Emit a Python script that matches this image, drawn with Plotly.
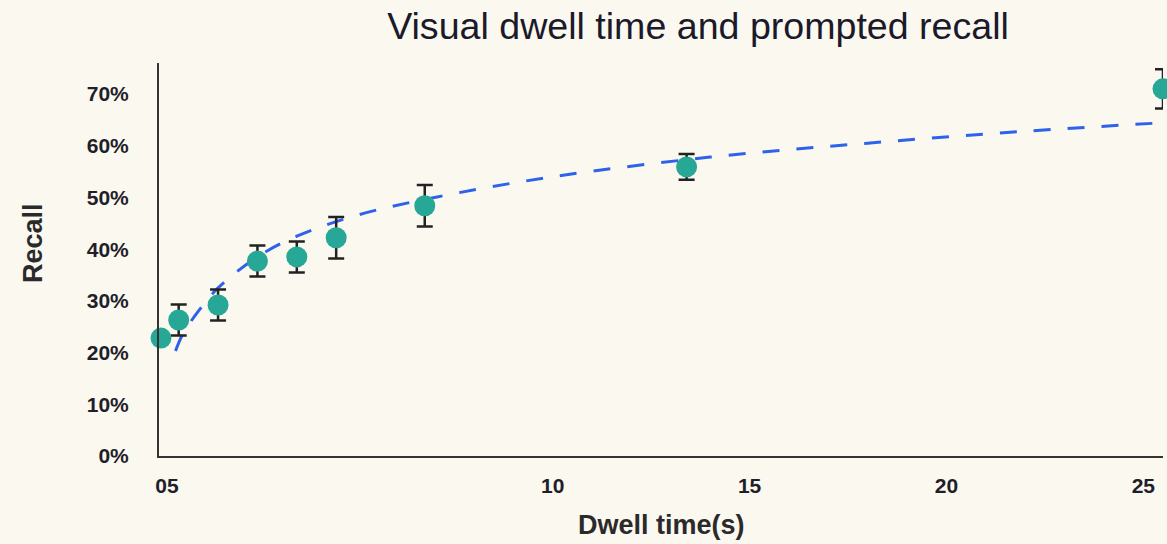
import plotly.graph_objects as go

# Observed data
dwell_time = [0.05, 0.5, 1.5, 2.5, 3.5, 4.5, 6.75, 13.4, 25.5]
recall = [22.8, 26.3, 29.2, 37.7, 38.5, 42.2, 48.4, 55.9, 71.0]
recall_err = [0, 3.0, 3.0, 3.0, 3.0, 4.0, 4.0, 2.5, 3.8]

# Fitted trend
fit_x = [0.42, 0.6, 1.0, 1.5, 2.5, 3.5, 5, 7, 10, 14, 18, 22, 25.4]
fit_y = [20.3, 23.5, 28.0, 32.5, 38.5, 42.5, 46.5, 50.0, 54.0, 57.8, 60.5, 62.8, 64.4]

x_tickvals = [0.2, 10, 15, 20, 25]
x_ticktext = ["05", "10", "15", "20", "25"]
y_tickvals = [0, 10, 20, 30, 40, 50, 60, 70]
y_ticktext = ["0%", "10%", "20%", "30%", "40%", "50%", "60%", "70%"]

BG = "#FBF8F0"
INK = "#1F1F2A"
FONT = "Liberation Sans, Arial, sans-serif"

fig = go.Figure()
fig.add_trace(go.Scatter(
    x=fit_x, y=fit_y, mode="lines", line_shape="spline",
    line=dict(color="#2F62EA", width=3, dash="17px,17px"),
    hoverinfo="skip", showlegend=False,
))
fig.add_trace(go.Scatter(
    x=dwell_time, y=recall, mode="markers",
    marker=dict(color="#27A795", size=21),
    error_y=dict(type="data", array=recall_err, visible=True,
                 color="#222222", thickness=2.5, width=8),
    showlegend=False, cliponaxis=False,
))

fig.update_layout(
    width=1396, height=544,
    margin=dict(l=159, r=233, t=63, b=88, autoexpand=False),
    paper_bgcolor=BG, plot_bgcolor=BG,
    title=dict(text="Visual dwell time and prompted recall",
               x=0.5, xref="container", xanchor="center", y=0.953, yanchor="middle",
               font=dict(family=FONT, size=37.6, color="#1A1A2A")),
    xaxis=dict(range=[0, 25.5], tickvals=x_tickvals, ticktext=x_ticktext,
               showgrid=False, zeroline=False, showline=True, linecolor="#333333", linewidth=2,
               ticks="", ticklabelstandoff=10, automargin=False,
               tickfont=dict(family=FONT, size=21, color=INK, weight="bold")),
    yaxis=dict(range=[0, 76], tickvals=y_tickvals, ticktext=y_ticktext,
               showgrid=False, zeroline=False, showline=True, linecolor="#333333", linewidth=2,
               ticks="", ticklabelstandoff=24, automargin=False,
               tickfont=dict(family=FONT, size=21, color=INK, weight="bold")),
    annotations=[
        dict(text="Recall", textangle=-90, showarrow=False,
             xref="paper", yref="paper", x=0, y=0.542, xshift=-126,
             xanchor="center", yanchor="middle",
             font=dict(family=FONT, size=27, color="#2A2A2A", weight="bold")),
        dict(text="Dwell time(s)", showarrow=False,
             xref="paper", yref="paper", x=0.5, y=0, yshift=-69,
             xanchor="center", yanchor="middle",
             font=dict(family=FONT, size=27, color="#2A2A2A", weight="bold")),
    ],
)

fig.write_html("out.html")
